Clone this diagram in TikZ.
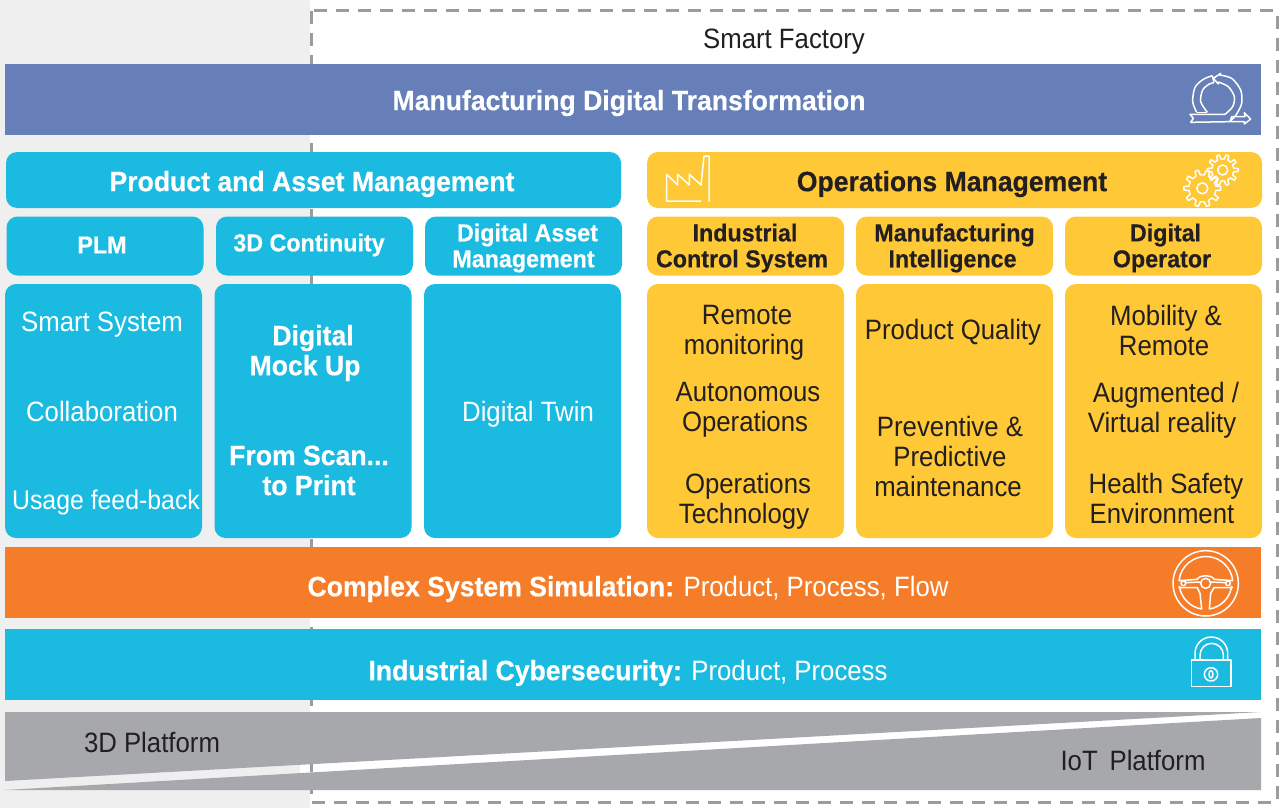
\documentclass[tikz,border=0pt]{standalone}
\usepackage{fontspec}
\setmainfont[FakeStretch=0.92,BoldFeatures={FakeStretch=0.95,FakeBold=0.4}]{Liberation Sans}
\definecolor{cblue}{HTML}{667FB9}
\definecolor{ccyan}{HTML}{1BBBE1}
\definecolor{cyel}{HTML}{FFC836}
\definecolor{corg}{HTML}{F57D2A}
\definecolor{cgray}{HTML}{A7A8AC}
\definecolor{cbg}{HTML}{EFEFEF}
\definecolor{cdash}{HTML}{9C9C9C}
\definecolor{cink}{HTML}{231F20}
\newcommand{\gearicon}[6]{% x y teeth root outer hole
  \begin{scope}[shift={(#1,#2)},icon]
    \draw (0,0) circle (#6);
    \foreach \k in {1,...,#3}{
      \pgfmathsetmacro{\aa}{\k*360/#3}
      \pgfmathsetmacro{\st}{360/#3}
      \draw[line join=round] (\aa-0.5*\st:#4) -- (\aa-0.27*\st:#4) -- (\aa-0.15*\st:#5) -- (\aa+0.15*\st:#5) -- (\aa+0.27*\st:#4) -- (\aa+0.5*\st:#4);
    }
  \end{scope}}
\tikzset{
  x=1pt,y=-1pt,
  every node/.style={text=cink,inner sep=0pt,outer sep=0pt,align=center},
  big/.style={font=\fontsize{28}{30}\selectfont,yshift=-2pt},
  head/.style={font=\fontsize{28}{30}\selectfont\bfseries,yshift=-2pt},
  sub/.style={font=\fontsize{24.5}{26}\selectfont\bfseries},
  bar/.style={minimum width=1256pt,minimum height=71pt},
  rbox/.style={rounded corners=11pt,text=white},
  wide/.style={rbox,minimum width=615pt,minimum height=56pt},
  tab/.style={rbox,minimum width=197pt,minimum height=59pt},
  body/.style={rbox,minimum width=197pt,minimum height=254pt},
  icon/.style={draw=white,line width=1.5pt,line join=round}
}
\newcommand{\off}[1]{\hspace*{#1pt}}
\begin{document}
\begin{tikzpicture}
\useasboundingbox (0,0) rectangle (1279,808);
\fill[white] (0,0) rectangle (1279,808);
\fill[cbg] (0,0) rectangle (310,808);
\fill[white] (300,755) rectangle (310,780);
\draw[cdash,line width=3pt,dash pattern=on 13pt off 9pt] (311,11) rectangle (1277,802);
\node[big] (sf) at (784,40) {Smart Factory};
% bands
\node[bar,fill=cblue] (mdt) at (633,99.5) {};
\node[head,text=white] (mdtt) at (629,101) {Manufacturing Digital Transformation};
\node[bar,fill=corg] (css) at (633,582.5) {};
\node[big,text=white] (csst) at (628,587) {\textbf{Complex System Simulation:} Product, Process, Flow};
\node[bar,fill=ccyan] (ics) at (633,664.5) {};
\node[big,text=white] (icst) at (628,671) {\textbf{Industrial Cybersecurity:} Product, Process};
% left column
\node[wide,fill=ccyan] (pam) at (313.5,180) {};
\node[head,text=white] (pamt) at (312,182) {Product and Asset Management};
\node[tab,fill=ccyan] (plm) at (105,246) {};
\node[tab,fill=ccyan] (cont) at (314.5,246) {};
\node[tab,fill=ccyan] (dam) at (523.5,246) {};
\node[sub,text=white] (plmt) at (102,245) {PLM};
\node[sub,text=white] (contt) at (309,245) {3D Continuity};
\node[sub,text=white] (damt) at (523.5,248) {\off{8}Digital Asset\\Management};
\node[body,fill=ccyan] (b1) at (103.5,411) {};
\node[body,fill=ccyan] (b2) at (313,411) {};
\node[body,fill=ccyan] (b3) at (522.5,411) {};
\node[big,text=white] (t11) at (102,323) {Smart System};
\node[big,text=white] (t12) at (102,409) {Collaboration};
\node[big,text=white,font=\fontsize{27}{30}\selectfont] (t13) at (106,501) {Usage feed-back};
\node[head,text=white] (t21) at (305,351) {\off{16}Digital\\Mock Up};
\node[head,text=white] (t22) at (309,468.5) {From Scan...\\to Print};
\node[big,text=white] (t31) at (528,412) {Digital Twin};
% right column
\node[wide,fill=cyel] (ops) at (954.5,180) {};
\node[head] (opst) at (952,182) {Operations Management};
\node[tab,fill=cyel] (ctl) at (745.5,246) {};
\node[tab,fill=cyel] (mi) at (954.5,246) {};
\node[tab,fill=cyel] (dop) at (1163.5,246) {};
\node[sub] (ctlt) at (745,248) {\off{0}Industrial\\\off{-6}Control System};
\node[sub] (mit) at (954.5,248) {\off{0}Manufacturing\\\off{-4}Intelligence};
\node[sub] (dopt) at (1163.5,248) {\off{4}Digital\\\off{-3}Operator};
\node[body,fill=cyel] (b4) at (745.5,411) {};
\node[body,fill=cyel] (b5) at (954.5,411) {};
\node[body,fill=cyel] (b6) at (1163.5,411) {};
\node[big] (t41) at (744,331) {\off{6}Remote\\monitoring};
\node[big] (t42) at (745,408) {\off{6}Autonomous\\Operations};
\node[big] (t43) at (744,499) {\off{8}Operations\\Technology};
\node[big] (t51) at (953,330) {Product Quality};
\node[big] (t52) at (948,454) {\off{4}Preventive \&\\\off{4}Predictive\\maintenance};
\node[big] (t61) at (1164,328) {\off{4}Mobility \&\\Remote};
\node[big] (t62) at (1162,408) {\off{8}Augmented /\\Virtual reality};
\node[big] (t63) at (1162,496) {\off{8}Health Safety\\Environment};
% platform
\fill[cgray] (5,712) -- (1261,712) -- (5,781) -- cycle;
\fill[cgray] (5,790) -- (1261,718) -- (1261,790) -- cycle;
\node[big] (p3d) at (152,740) {3D Platform};
\node[big] (piot) at (1133,758) {IoT\, Platform};
% factory icon
\draw[icon] (709,201.7) -- (709,156) -- (704,156) -- (701,185) -- (689.3,174.3) -- (689.3,185) -- (677.7,174.3) -- (677.7,185) -- (666.7,174.3) -- (666.7,201) -- (701,201);
% gears
\gearicon{1202.3}{188.3}{10}{13.5}{18.5}{5.5}
\gearicon{1222.7}{170}{10}{11}{15.5}{5}
% cycle icon (coordinates of a 3x crop at 1150,60)
\begin{scope}[shift={(1150,60)},scale=1/3,icon]
  \draw plot[smooth] coordinates {(140,157) (128,125) (135,82) (160,58) (187,47)};
  \draw plot[smooth] coordinates {(172,157) (152,125) (158,90) (178,72) (192,68)};
  \draw (187,47) -- (192,68);
  \draw (140,157) -- (172,157);
  \draw (208,45) -- (212,40) -- (190,55) -- (205,72) -- (205,66);
  \draw plot[smooth] coordinates {(208,45) (245,55) (272,90) (275,130) (258,165) (240,184)};
  \draw plot[smooth] coordinates {(205,66) (235,80) (253,110) (248,140) (225,163)};
  \draw (225,163) -- (120,163) -- (130,175) -- (122,187) -- (240,185) -- (283,185) -- (283,192) -- (302,177) -- (283,158) -- (285,170) -- (245,170) -- (240,185);
\end{scope}
% steering wheel (3x crop at 1150,540)
\begin{scope}[shift={(1150,540)},scale=1/3,icon]
  \draw (167,130) circle (98);
  \draw (167,130) circle (15);
  \draw (100,130) circle (7);
  \draw (234,130) circle (7);
  \draw (87,122) arc (186:354:81) -- (192,118) .. controls (188,104) and (146,104) .. (142,118) -- cycle;
  \draw (87,143) -- (142,143) -- (150,160) -- (155,207) arc (99:172:80) -- cycle;
  \draw (247,143) -- (192,143) -- (182,160) -- (178,207) arc (81:8:80) -- cycle;
  \draw (107,128) -- (152,126);
  \draw (227,128) -- (182,126);
\end{scope}
% lock (3x crop at 1150,540)
\begin{scope}[shift={(1150,540)},scale=1/3,icon]
  \draw (125,360) rectangle (243,440);
  \draw (135,360) -- (135,340) arc (180:360:49) -- (233,360);
  \draw (150,360) -- (150,345) arc (180:360:35) -- (220,360);
  \draw (183,403) circle (20);
  \draw (183,403) ellipse (6 and 11);
\end{scope}
\end{tikzpicture}
\end{document}
